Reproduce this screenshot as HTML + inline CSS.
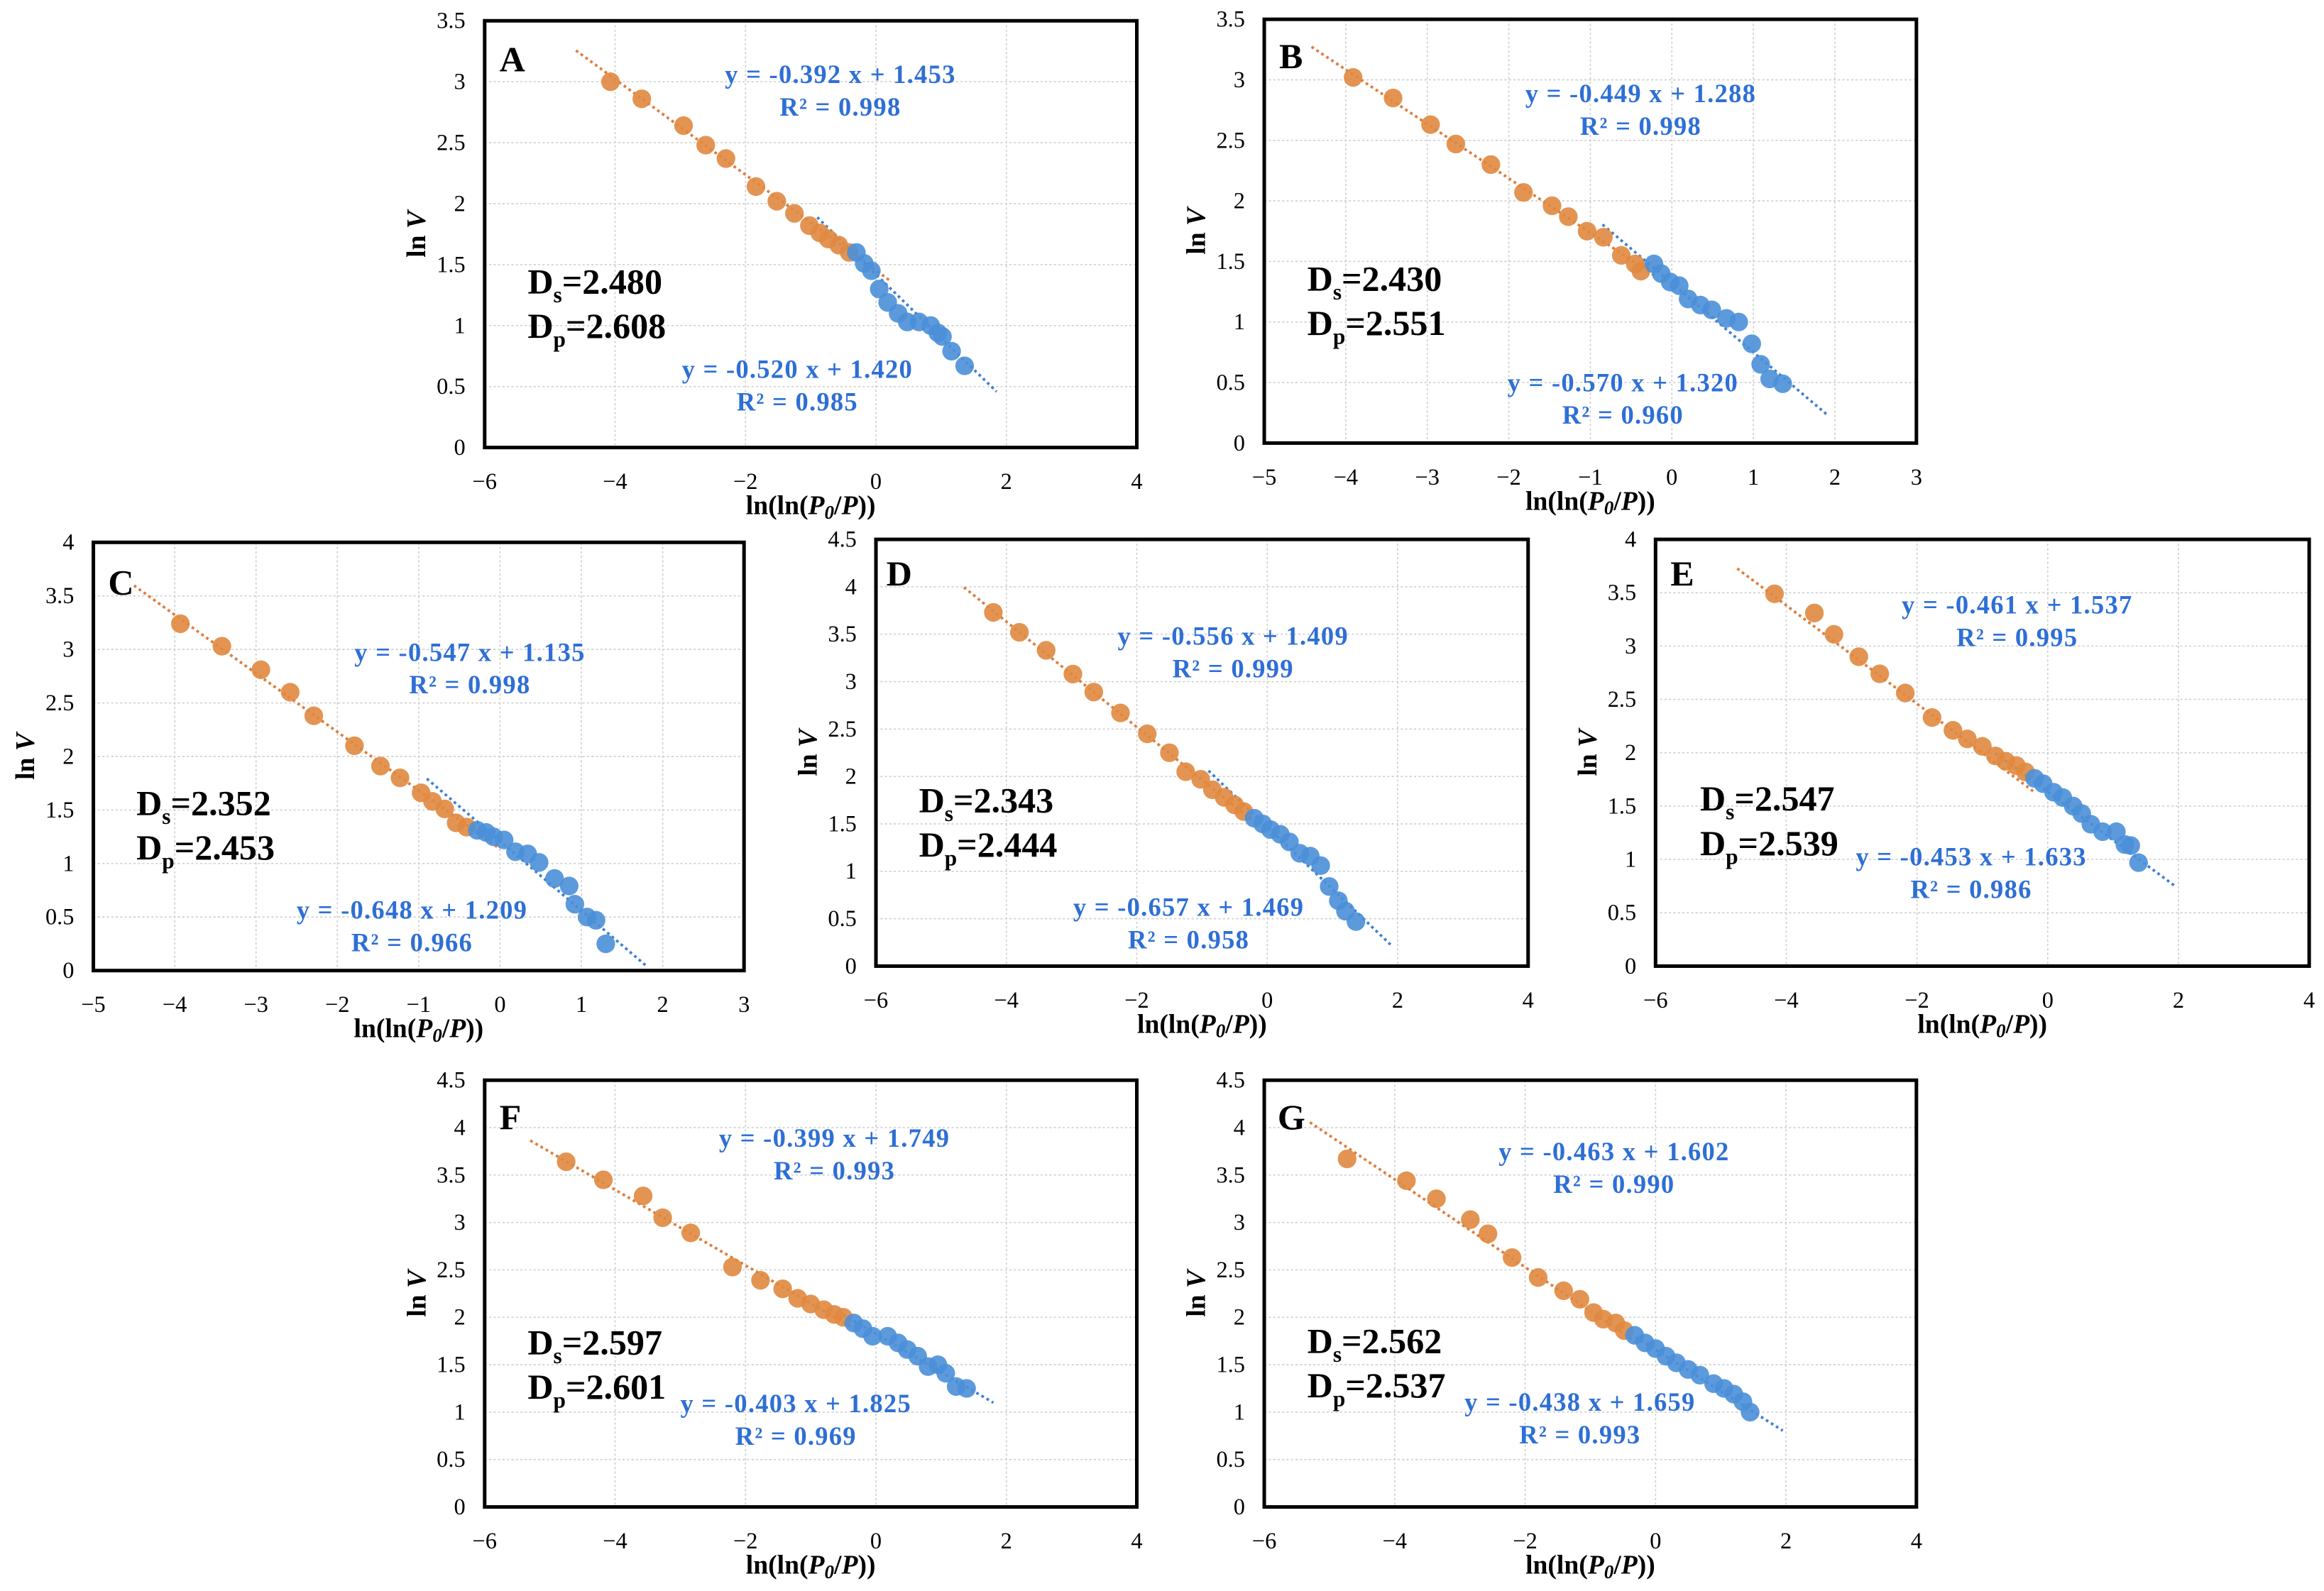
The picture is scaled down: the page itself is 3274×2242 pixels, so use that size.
<!DOCTYPE html>
<html><head><meta charset="utf-8">
<style>
html,body{margin:0;padding:0;background:#fff;}
svg{display:block;}
text{font-family:"Liberation Serif",serif;}
</style></head>
<body>
<svg id="fig" width="3274" height="2242" viewBox="0 0 1568 1073.7" xmlns="http://www.w3.org/2000/svg"></svg>
<script>
// ---- data (per panel) ----
const panelIds = ["A","B","C","D","E","F","G"];
const orangeX = {
A:[-4.07,-3.59,-2.95,-2.61,-2.30,-1.84,-1.52,-1.25,-1.02,-0.86,-0.73,-0.57,-0.41],
B:[-3.91,-3.42,-2.96,-2.65,-2.22,-1.82,-1.47,-1.27,-1.04,-0.84,-0.62,-0.45,-0.38],
C:[-3.93,-3.42,-2.94,-2.58,-2.29,-1.79,-1.47,-1.23,-0.97,-0.83,-0.68,-0.54,-0.41],
D:[-4.20,-3.80,-3.39,-2.98,-2.66,-2.25,-1.84,-1.50,-1.25,-1.02,-0.84,-0.66,-0.50,-0.36],
E:[-4.18,-3.57,-3.27,-2.89,-2.57,-2.18,-1.77,-1.45,-1.23,-1.00,-0.80,-0.64,-0.48,-0.34],
F:[-4.75,-4.18,-3.57,-3.27,-2.84,-2.20,-1.77,-1.43,-1.20,-1.00,-0.80,-0.64,-0.50],
G:[-4.73,-3.82,-3.36,-2.84,-2.57,-2.20,-1.80,-1.41,-1.16,-0.95,-0.80,-0.61,-0.48]};
const orangeY = {
A:[3.00,2.86,2.64,2.48,2.37,2.14,2.02,1.92,1.82,1.76,1.71,1.66,1.60],
B:[3.02,2.85,2.63,2.47,2.30,2.07,1.96,1.87,1.75,1.70,1.55,1.48,1.42],
C:[3.24,3.03,2.81,2.60,2.38,2.10,1.91,1.80,1.66,1.58,1.51,1.38,1.34],
D:[3.73,3.52,3.33,3.08,2.89,2.67,2.45,2.25,2.05,1.97,1.86,1.78,1.70,1.63],
E:[3.49,3.31,3.11,2.90,2.74,2.56,2.33,2.21,2.13,2.06,1.97,1.92,1.88,1.82],
F:[3.64,3.45,3.28,3.05,2.89,2.53,2.39,2.30,2.20,2.14,2.08,2.03,2.00],
G:[3.67,3.44,3.25,3.03,2.88,2.63,2.42,2.28,2.19,2.05,1.98,1.94,1.86]};
const blueX = {
A:[-0.30,-0.18,-0.07,0.05,0.18,0.34,0.48,0.66,0.84,0.95,1.02,1.16,1.36],
B:[-0.22,-0.13,-0.02,0.09,0.20,0.35,0.49,0.67,0.82,0.98,1.09,1.20,1.36],
C:[-0.28,-0.17,-0.08,0.05,0.19,0.34,0.48,0.67,0.85,0.92,1.07,1.18,1.30],
D:[-0.20,-0.07,0.05,0.20,0.34,0.50,0.66,0.82,0.95,1.09,1.20,1.36],
E:[-0.20,-0.07,0.09,0.23,0.39,0.52,0.66,0.84,1.05,1.18,1.27,1.39],
F:[-0.34,-0.20,-0.05,0.18,0.34,0.48,0.64,0.80,0.95,1.07,1.23,1.39],
G:[-0.32,-0.16,0.00,0.16,0.32,0.50,0.68,0.89,1.05,1.20,1.34,1.45]};
const blueY = {
A:[1.60,1.51,1.45,1.30,1.19,1.10,1.03,1.03,1.00,0.94,0.91,0.79,0.67],
B:[1.48,1.40,1.33,1.30,1.19,1.14,1.10,1.03,1.00,0.82,0.65,0.53,0.49],
C:[1.31,1.29,1.25,1.22,1.11,1.09,1.01,0.86,0.79,0.62,0.50,0.47,0.25],
D:[1.56,1.50,1.44,1.39,1.31,1.19,1.16,1.06,0.84,0.69,0.58,0.47],
E:[1.76,1.71,1.63,1.58,1.50,1.43,1.33,1.26,1.26,1.14,1.13,0.97],
F:[1.94,1.88,1.80,1.80,1.73,1.66,1.59,1.48,1.50,1.41,1.27,1.25],
G:[1.81,1.73,1.67,1.59,1.52,1.45,1.39,1.30,1.25,1.19,1.11,1.00]};
// fit coefficients printed on the chart
const fitOrange = {A:[-0.392,1.453,0.998],B:[-0.449,1.288,0.998],C:[-0.547,1.135,0.998],D:[-0.556,1.409,0.999],E:[-0.461,1.537,0.995],F:[-0.399,1.749,0.993],G:[-0.463,1.602,0.990]};
const fitBlue = {A:[-0.520,1.420,0.985],B:[-0.570,1.320,0.960],C:[-0.648,1.209,0.966],D:[-0.657,1.469,0.958],E:[-0.453,1.633,0.986],F:[-0.403,1.825,0.969],G:[-0.438,1.659,0.993]};
const fitOrangeRange = {A:[-4.6,0.2],B:[-4.42,-0.2],C:[-4.5,0.0],D:[-4.65,-0.2],E:[-4.75,-0.2],F:[-5.3,-0.3],G:[-5.3,-0.3]};
const fitBlueRange = {A:[-0.9,1.85],B:[-0.85,1.9],C:[-0.9,1.8],D:[-0.9,1.9],E:[-0.8,1.95],F:[-0.5,1.8],G:[-0.3,1.95]};
const dsValues = {A:"2.480",B:"2.430",C:"2.352",D:"2.343",E:"2.547",F:"2.597",G:"2.562"};
const dpValues = {A:"2.608",B:"2.551",C:"2.453",D:"2.444",E:"2.539",F:"2.601",G:"2.537"};
const xDomain = {A:[-6,4],B:[-5,3],C:[-5,3],D:[-6,4],E:[-6,4],F:[-6,4],G:[-6,4]};
const xStep = {A:2,B:1,C:1,D:2,E:2,F:2,G:2};
const yDomain = {A:[0,3.5],B:[0,3.5],C:[0,4],D:[0,4.5],E:[0,4],F:[0,4.5],G:[0,4.5]};

// ---- layout (display units) ----
const boxes = {A:[327,14,767,302],B:[853,13,1293,299],C:[63,366,502,655],D:[591,364,1031,652],E:[1117,364,1558,652],F:[327,729,767,1017],G:[853,729,1293,1017]};
const labelPos = {
A:{L:[337,48],e1:[567,56],d:[356,198],e2:[538,255]},
B:{L:[863,46],e1:[1107,69],d:[882,196],e2:[1095,264]},
C:{L:[73,401],e1:[317,446],d:[92,550],e2:[278,620]},
D:{L:[598,395],e1:[832,435],d:[620,548],e2:[802,618]},
E:{L:[1127,395],e1:[1361,414],d:[1147,547],e2:[1330,584]},
F:{L:[337,762],e1:[563,774],d:[356,914],e2:[537,953]},
G:{L:[862,762],e1:[1089,783],d:[882,913],e2:[1066,952]}};

const NS="http://www.w3.org/2000/svg";
const svg=document.getElementById('fig');
function mk(tag,attrs,parent){const e=document.createElementNS(NS,tag);for(const k in attrs)e.setAttribute(k,attrs[k]);(parent||svg).appendChild(e);return e;}
function fmt(v){return (v<0?"\u2212":"")+String(Math.abs(Math.round(v*10)/10));}
function eqText(c){return "y = "+c[0].toFixed(3)+" x + "+c[1].toFixed(3);}

panelIds.forEach(id=>{
  const [x0,y0,x1,y1]=boxes[id];
  const [xa,xb]=xDomain[id],[ya,yb]=yDomain[id];
  const sx=v=>x0+(v-xa)/(xb-xa)*(x1-x0);
  const sy=v=>y1-(v-ya)/(yb-ya)*(y1-y0);
  const g=mk('g',{});
  
  
  for(let v=xa+xStep[id];v<xb-1e-9;v+=xStep[id]){
    const l=mk('line',{x1:sx(v),x2:sx(v),y1:y0,y2:y1,stroke:'#d0d0d0','stroke-width':0.8,'stroke-dasharray':'1.5 1.5'},g);
    
    
  }
  for(let v=ya+0.5;v<yb-1e-9;v+=0.5){
    const l=mk('line',{x1:x0,x2:x1,y1:sy(v),y2:sy(v),stroke:'#d0d0d0','stroke-width':0.8,'stroke-dasharray':'1.5 1.5'},g);
    
    
  }
  for(let v=xa;v<=xb+1e-9;v+=xStep[id]){
    const t=mk('text',{x:sx(v),y:y1+28,'text-anchor':'middle','font-size':15.5,fill:'#000'},g);
    t.textContent=fmt(v);
    
    
  }
  for(let v=ya;v<=yb+1e-9;v+=0.5){
    const t=mk('text',{x:x0-13,y:sy(v)+5,'text-anchor':'end','font-size':15.5,fill:'#000'},g);
    t.textContent=String(Math.round(v*10)/10);
    
    
  }
  const xt=mk('text',{x:(x0+x1)/2,y:y1+45,'text-anchor':'middle','font-size':18,'font-weight':'bold'},g);
  xt.innerHTML='ln(ln(<tspan font-style="italic">P</tspan><tspan font-style="italic" font-size="13" dy="3">0</tspan><tspan dy="-3">/</tspan><tspan font-style="italic">P</tspan>))';
  
  
  const ym=(y0+y1)/2;
  const yt=mk('text',{x:x0-40,y:ym,'text-anchor':'middle','font-size':18,'font-weight':'bold',transform:`rotate(-90 ${x0-40} ${ym})`},g);
  yt.innerHTML='ln<tspan font-style="italic"> V</tspan>';
  
  
  const fo=fitOrange[id],ro=fitOrangeRange[id];
  const lo=mk('line',{x1:sx(ro[0]),y1:sy(fo[0]*ro[0]+fo[1]),x2:sx(ro[1]),y2:sy(fo[0]*ro[1]+fo[1]),stroke:'#E07B39','stroke-width':1.8,'stroke-dasharray':'1.8 2.2'},g);
  
  
  const fb=fitBlue[id],rb=fitBlueRange[id];
  const lb=mk('line',{x1:sx(rb[0]),y1:sy(fb[0]*rb[0]+fb[1]),x2:sx(rb[1]),y2:sy(fb[0]*rb[1]+fb[1]),stroke:'#3C7FD0','stroke-width':1.8,'stroke-dasharray':'1.8 2.2'},g);
  
  
  orangeX[id].forEach((xv,i)=>{
    const c=mk('circle',{cx:sx(xv),cy:sy(orangeY[id][i]),r:6.3,fill:'#E0883F','fill-opacity':0.9},g);
    
    
  });
  blueX[id].forEach((xv,i)=>{
    const c=mk('circle',{cx:sx(xv),cy:sy(blueY[id][i]),r:6.3,fill:'#4A8FD8','fill-opacity':0.9},g);
    
    
  });
  const fr=mk('rect',{x:x0,y:y0,width:x1-x0,height:y1-y0,fill:'none',stroke:'#000','stroke-width':2.4},g);
  
  
  const P=labelPos[id];
  const L=mk('text',{x:P.L[0],y:P.L[1],'font-size':24,'font-weight':'bold'},g);
  L.textContent=id;
  
  
  [[P.e1,fo],[P.e2,fb]].forEach(([p,c],k)=>{
    const t1=mk('text',{x:p[0],y:p[1],'text-anchor':'middle','font-size':17.5,'letter-spacing':0.6,'font-weight':'bold',fill:'#2E6FD6'},g);
    t1.textContent=eqText(c);
    
    
    const t2=mk('text',{x:p[0],y:p[1]+22,'text-anchor':'middle','font-size':17.5,'letter-spacing':0.6,'font-weight':'bold',fill:'#2E6FD6'},g);
    t2.textContent='R\u00B2 = '+c[2].toFixed(3);
    
    
  });
  const ds=mk('text',{x:P.d[0],y:P.d[1],'font-size':24,'font-weight':'bold'},g);
  ds.innerHTML='D<tspan font-size="15" dy="6">s</tspan><tspan dy="-6">='+dsValues[id]+'</tspan>';
  
  
  const dp=mk('text',{x:P.d[0],y:P.d[1]+30,'font-size':24,'font-weight':'bold'},g);
  dp.innerHTML='D<tspan font-size="15" dy="6">p</tspan><tspan dy="-6">='+dpValues[id]+'</tspan>';
  
  
});
</script>
</body></html>
